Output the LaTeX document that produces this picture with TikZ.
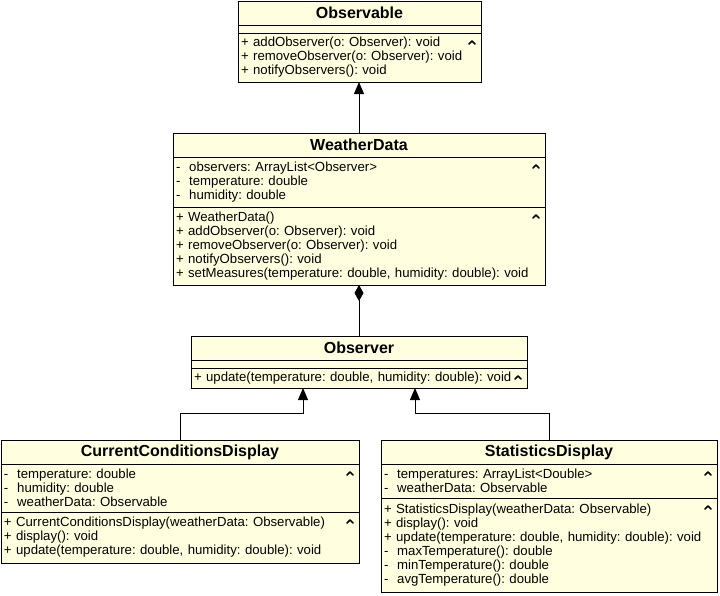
\documentclass[tikz,border=0pt]{standalone}
\usepackage{fontspec}
\setmainfont{Liberation Sans}
\usetikzlibrary{arrows.meta, positioning, calc}
\definecolor{classyellow}{RGB}{255, 255, 224}
\frenchspacing

\begin{document}
\begin{tikzpicture}[x=1pt, y=-1pt,
	classtitle/.style={draw, fill=classyellow, line width=1pt, inner sep=0pt, outer sep=0pt, minimum height=24pt, font=\fontsize{16}{18}\selectfont\bfseries},
	compart/.style={draw, fill=classyellow, line width=1pt, inner xsep=3pt, inner ysep=0pt, outer sep=0pt, align=left, font=\fontsize{13.2}{14}\selectfont},
	inherit/.style={-{Triangle[length=12pt, width=10pt]}, line width=1pt},
	compose/.style={{Diamond[length=16pt, width=9pt]}-, line width=1pt},
	caret/.style={line width=1.6pt, line cap=round, line join=round}]
	\useasboundingbox (0,0) rectangle (720,595);

	% Observable
	\node[classtitle, minimum width=243pt, anchor=north west] (obs-title) at (238,1) {Observable};
	\node[compart, text width=237pt, minimum height=8pt, below=0pt of obs-title] (obs-attrs) {};
	\node[compart, text width=237pt, minimum height=49pt, below=0pt of obs-attrs] (obs-methods) {+ addObserver(o: Observer): void\\+ removeObserver(o: Observer): void\\+ notifyObservers(): void};

	% WeatherData
	\node[classtitle, minimum width=372pt, anchor=north west] (wd-title) at (173,133) {WeatherData};
	\node[compart, text width=366pt, minimum height=50pt, below=0pt of wd-title] (wd-attrs) {-~~observers: ArrayList<Observer>\\-~~temperature: double\\-~~humidity: double};
	\node[compart, text width=366pt, minimum height=78pt, below=0pt of wd-attrs] (wd-methods) {+ WeatherData()\\+ addObserver(o: Observer): void\\+ removeObserver(o: Observer): void\\+ notifyObservers(): void\\+ setMeasures(temperature: double, humidity: double): void};

	% Observer
	\node[classtitle, minimum width=336pt, anchor=north west] (obsr-title) at (191,336) {Observer};
	\node[compart, text width=330pt, minimum height=8pt, below=0pt of obsr-title] (obsr-attrs) {};
	\node[compart, text width=330pt, minimum height=20pt, below=0pt of obsr-attrs] (obsr-methods) {+ update(temperature: double, humidity: double): void};

	% CurrentConditionsDisplay
	\node[classtitle, minimum width=358pt, anchor=north west] (ccd-title) at (1,440) {CurrentConditionsDisplay};
	\node[compart, text width=352pt, minimum height=48pt, below=0pt of ccd-title] (ccd-attrs) {-~~temperature: double\\-~~humidity: double\\-~~weatherData: Observable};
	\node[compart, text width=352pt, minimum height=51pt, below=0pt of ccd-attrs] (ccd-methods) {+ CurrentConditionsDisplay(weatherData: Observable)\\+ display(): void\\+ update(temperature: double, humidity: double): void};

	% StatisticsDisplay
	\node[classtitle, minimum width=336pt, anchor=north west] (sd-title) at (381,440) {StatisticsDisplay};
	\node[compart, text width=330pt, minimum height=34pt, below=0pt of sd-title] (sd-attrs) {-~~temperatures: ArrayList<Double>\\-~~weatherData: Observable};
	\node[compart, text width=330pt, minimum height=94pt, below=0pt of sd-attrs] (sd-methods) {+ StatisticsDisplay(weatherData: Observable)\\+ display(): void\\+ update(temperature: double, humidity: double): void\\-~~maxTemperature(): double\\-~~minTemperature(): double\\-~~avgTemperature(): double};

	% collapse carets
	\foreach \n in {obs-methods, wd-attrs, wd-methods, obsr-methods, ccd-attrs, ccd-methods, sd-attrs, sd-methods}
		\draw[caret] ([shift={(-12,11)}]\n.north east) -- ++(3,-3) -- ++(3,3);

	% relations
	\draw[inherit] (wd-title.north) -- (wd-title.north |- obs-methods.south);
	\draw[compose] (wd-methods.south) -- (obsr-title.north);
	\coordinate (ccd-in) at ([xshift=-56pt]obsr-methods.south);
	\coordinate (sd-in) at ([xshift=56pt]obsr-methods.south);
	\coordinate (ccd-bend) at ([yshift=-25pt]ccd-in);
	\coordinate (sd-bend) at ([yshift=-25pt]sd-in);
	\draw[inherit] (ccd-title.north) |- (ccd-bend) -- (ccd-in);
	\draw[inherit] (sd-title.north) |- (sd-bend) -- (sd-in);
\end{tikzpicture}
\end{document}
